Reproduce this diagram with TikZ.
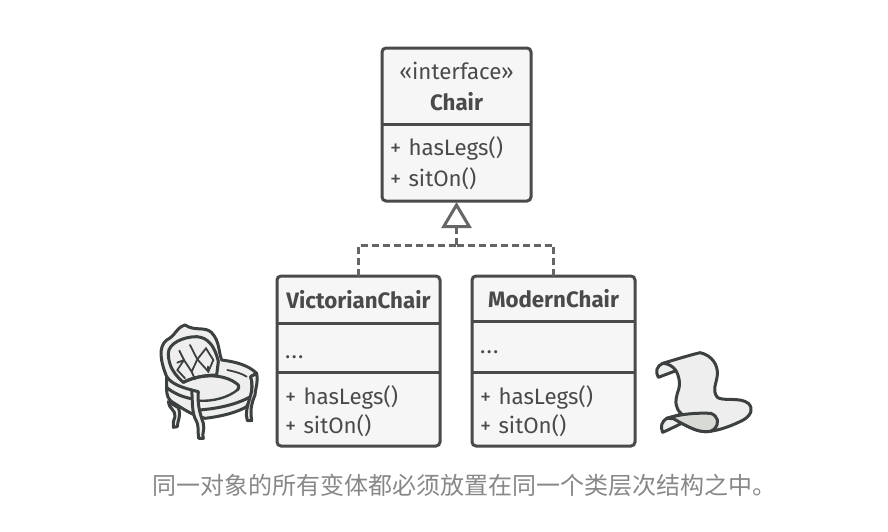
\documentclass[tikz,border=0pt]{standalone}
\usepackage{fontspec}
\setmainfont{Fira Sans}
\newfontfamily\cjk{Noto Sans CJK SC}
\usetikzlibrary{positioning, arrows.meta}
\definecolor{ink}{HTML}{4A4A4A}
\definecolor{paper}{HTML}{F6F6F6}
\definecolor{sketch}{HTML}{3C4040}
\definecolor{sheet}{HTML}{EDEEED}
\definecolor{fold}{HTML}{D8DAD5}
\tikzset{
    part/.style = {minimum width = 149pt, text width = 133pt, inner xsep = 8pt, inner ysep = 0pt, outer sep = 0pt, text = ink, font = \fontsize{22.3}{29}\selectfont, align = left},
    wide/.style = {part, minimum width = 163pt, text width = 147pt},
    frame/.style = {draw = ink, line width = 3pt, rounded corners = 4pt},
    divider/.style = {draw = ink, line width = 3pt},
    link/.style = {draw = ink!85, line width = 3pt, dash pattern = on 7pt off 4pt},
    outline/.style = {draw = sketch, line width = 3pt, line join = round, line cap = round, fill = sheet},
    crease/.style = {draw = sketch, line width = 1.8pt, line cap = round}
}

\begin{document}
\begin{tikzpicture} [x = 1pt, y = -1pt, node distance = 0pt]
    \useasboundingbox (0,0) rectangle (888,531);

    % interface
    \fill[paper] (382,48) rectangle (531,201);
    \node (chairhead) [part, minimum height = 76pt, align = center, font = \fontsize{22.3}{31}\selectfont] at (456.5,86) {\rule{0pt}{19pt}«interface»\\\textbf{Chair}};
    \node (chairbody) [part, minimum height = 77pt, below = of chairhead, font = \fontsize{22.3}{31}\selectfont] {\rule{0pt}{21pt}+ hasLegs()\\+ sitOn()};
    \draw[frame] (chairhead.north west) rectangle (chairbody.south east);
    \draw[divider] (chairhead.south west) -- (chairhead.south east);

    % implementations
    \fill[paper] (277,276) rectangle (440,446);
    \fill[paper] (472,276) rectangle (635,446);
    \node (vichead) [wide, minimum height = 47pt, align = center] at (358.5,299.5) {\textbf{VictorianChair}};
    \node (vicdata) [wide, minimum height = 49pt, below = of vichead] {\rule{0pt}{22pt}.\kern1.2pt.\kern1.2pt.};
    \node (vicbody) [wide, minimum height = 74pt, below = of vicdata] {\rule{0pt}{24pt}+ hasLegs()\\+ sitOn()};
    \draw[frame] (vichead.north west) rectangle (vicbody.south east);
    \draw[divider] (vichead.south west) -- (vichead.south east);
    \draw[divider] (vicdata.south west) -- (vicdata.south east);

    \node (modhead) [wide, minimum height = 45pt, align = center] at (553.5,298.5) {\textbf{ModernChair}};
    \node (moddata) [wide, minimum height = 51pt, below = of modhead] {\rule{0pt}{14pt}.\kern1.2pt.\kern1.2pt.};
    \node (modbody) [wide, minimum height = 74pt, below = of moddata] {\rule{0pt}{24pt}+ hasLegs()\\+ sitOn()};
    \draw[frame] (modhead.north west) rectangle (modbody.south east);
    \draw[divider] (modhead.south west) -- (modhead.south east);
    \draw[divider] (moddata.south west) -- (moddata.south east);

    % dashed realisation
    \coordinate (fork) at (456.5,245);
    \draw[link] (vichead.north) |- (fork);
    \draw[link] (modhead.north) |- (fork);
    \draw[link, -{Triangle[open, length = 26pt, width = 30pt, line width = 3pt, fill = white]}, shorten > = 1pt] (fork) -- (chairbody.south);

    % armchair
    \begin{scope}[shift = {(140,310)}, x = 0.3333pt, y = -0.3333pt]
        \draw[outline] (245,150) .. controls (235,125) and (240,95) .. (215,68) .. controls (195,48) and (165,65) .. (135,45) .. controls (105,55) and (110,75) .. (80,90) .. controls (55,110) and (60,150) .. (80,200) -- (80,235) .. controls (80,260) and (85,265) .. (95,275) .. controls (120,290) and (140,305) .. (165,315) -- (195,325) .. controls (240,320) and (290,308) .. (320,290) .. controls (335,265) and (340,225) .. (332,200) -- (350,190) .. controls (325,165) and (285,155) .. (245,150) -- cycle;
        \draw[outline] (235,155) .. controls (225,110) and (205,82) .. (170,80) .. controls (130,80) and (85,100) .. (85,130) .. controls (85,170) and (105,195) .. (130,217) .. controls (165,200) and (200,195) .. (230,195) -- cycle;
        \draw[outline, fill = none] (130,217) .. controls (170,195) and (250,185) .. (295,225) .. controls (298,232) and (296,236) .. (292,240);
        \draw[crease, line width = 2.4pt] (292,240) .. controls (265,262) and (220,275) .. (176,272);
        \draw[outline, fill = none] (80,200) .. controls (95,222) and (125,232) .. (155,240);
        \draw[outline, fill = none] (80,232) .. controls (100,250) and (130,262) .. (155,266);
        \draw[outline, fill = none] (178,300) .. controls (230,296) and (285,285) .. (328,262);
        \draw[outline] (155,240) -- (175,245) .. controls (172,280) and (178,305) .. (190,340) .. controls (195,360) and (185,370) .. (190,385) -- (176,385) .. controls (172,365) and (180,350) .. (165,325) .. controls (155,300) and (158,270) .. (155,240) -- cycle;
        \draw[outline] (332,200) -- (350,190) .. controls (355,220) and (345,240) .. (345,255) .. controls (335,280) and (330,295) .. (335,332) -- (322,332) .. controls (315,310) and (322,290) .. (330,262) .. controls (338,240) and (338,220) .. (332,200) -- cycle;
        \draw[outline] (85,275) .. controls (85,295) and (108,300) .. (105,320) .. controls (100,335) and (98,340) .. (100,352) -- (112,350) .. controls (112,330) and (125,320) .. (115,293) -- cycle;
        \draw[crease] (118,122) -- (132,150) -- (112,180) -- (135,205);
        \draw[crease] (132,150) -- (155,185) -- (172,148) -- (150,105);
        \draw[crease] (155,185) -- (165,208);
        \draw[crease] (112,158) -- (132,150);
        \draw[crease] (172,148) -- (205,185) -- (220,150) -- (198,115) -- (172,148);
        \draw[crease] (205,185) -- (205,170);
        \draw[crease] (262,180) .. controls (285,185) and (305,190) .. (320,200);
    \end{scope}

    % scroll
    \begin{scope}[shift = {(640,340)}, x = 0.3333pt, y = -0.3333pt]
        \draw[outline] (68,70) .. controls (85,65) and (150,45) .. (180,38) .. controls (215,45) and (235,75) .. (232,105) .. controls (230,130) and (215,150) .. (232,172) .. controls (250,185) and (300,170) .. (325,190) .. controls (340,205) and (335,225) .. (310,240) .. controls (280,255) and (240,272) .. (200,275) .. controls (170,275) and (150,262) .. (125,250) .. controls (100,262) and (85,270) .. (68,277) .. controls (60,260) and (65,245) .. (80,235) .. controls (95,232) and (105,228) .. (125,222) .. controls (105,205) and (105,185) .. (112,160) .. controls (125,130) and (115,105) .. (108,92) -- (55,112) .. controls (45,95) and (50,78) .. (68,70) -- cycle;
        \draw[outline, fill = fold] (80,235) .. controls (120,222) and (170,218) .. (212,220) .. controls (235,228) and (240,250) .. (222,268) .. controls (215,274) and (208,275) .. (200,275) .. controls (170,275) and (150,262) .. (125,250) -- (100,236) -- cycle;
        \draw[outline, fill = none] (68,70) .. controls (85,70) and (100,80) .. (108,92);
    \end{scope}

    % caption
    \node (caption) [text = black!47, font = \cjk\fontsize{24}{28}\selectfont, inner sep = 0pt] at (464,485) {同一对象的所有变体都必须放置在同一个类层次结构之中。};
\end{tikzpicture}
\end{document}
